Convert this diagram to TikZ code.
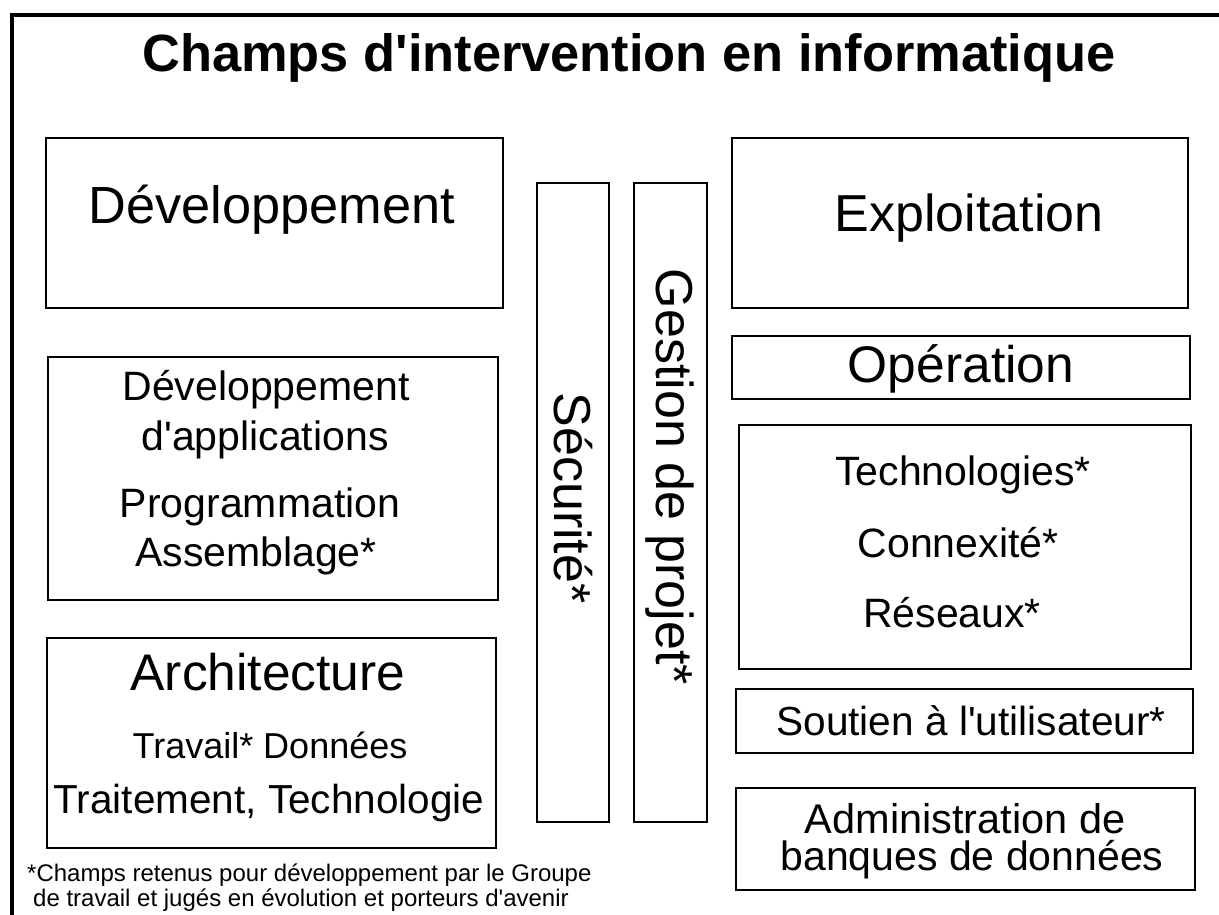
\documentclass[tikz,border=0pt]{standalone}
\usepackage{fontspec}
\setmainfont{Liberation Sans}
\newcommand\setfs[1]{\fontsize{#1}{#1}\selectfont}
\newcommand\ap{\textquotesingle}
\begin{document}
\begin{tikzpicture}[x=1pt,y=-1pt,
  box/.style={draw=black, line width=1.6pt, rectangle, inner sep=0pt},
  txt/.style={anchor=base, inner sep=0pt},
  foot/.style={anchor=base west, inner sep=0pt, font=\setfs{24}}]
\clip (0,0) rectangle (1219,914);
\fill[white] (0,0) rectangle (1219,914);
% outer frame (clipped at right and bottom)
\draw[line width=3.5pt] (12,940) -- (12,15) -- (1240,15);
% title
\node[txt, font=\bfseries\setfs{52.4}] (title) at (629,71) {Champs d\ap intervention en informatique};
% left column boxes
\node[box, minimum width=457pt, minimum height=170pt] (dev) at (274.5,223) {};
\node[box, minimum width=450pt, minimum height=243pt] (devapp) at (273,478.5) {};
\node[box, minimum width=449pt, minimum height=210pt] (arch) at (271.5,743) {};
% vertical bars
\node[box, minimum width=72pt, minimum height=639pt] (secu) at (573,502.5) {};
\node[box, minimum width=73pt, minimum height=639pt] (gest) at (670.5,502.5) {};
% right column boxes
\node[box, minimum width=456pt, minimum height=170pt] (expl) at (960,223) {};
\node[box, minimum width=458pt, minimum height=63pt] (oper) at (961,367.5) {};
\node[box, minimum width=452pt, minimum height=244pt] (tech) at (965,547) {};
\node[box, minimum width=457pt, minimum height=64pt] (sout) at (964.5,721) {};
\node[box, minimum width=459pt, minimum height=102pt] (admin) at (965.5,839) {};
% texts left
\node[txt, font=\setfs{52.3}] (devT) at (272,223) {Développement};
\node[txt, font=\setfs{41}] (devappA) at (266,400) {Développement};
\node[txt, font=\setfs{41}] (devappB) at (265,450) {d\ap applications};
\node[txt, font=\setfs{41}] (devappC) at (260,517) {Programmation};
\node[txt, font=\setfs{41}] (devappD) at (256,566) {Assemblage*};
\node[txt, font=\setfs{51.5}] (archA) at (268,690) {Architecture};
\node[txt, font=\setfs{36}] (archB) at (270,758) {Travail* Données};
\node[txt, font=\setfs{40.5}] (archC) at (269,813) {Traitement, Technologie};
% vertical texts
\node[txt, rotate=-90, font=\setfs{52}] (secuT) at (554,498) {Sécurité*};
\node[txt, rotate=-90, font=\setfs{52}] (gestT) at (656,477) {Gestion de projet*};
% texts right
\node[txt, font=\setfs{52}] (explT) at (969,231) {Exploitation};
\node[txt, font=\setfs{51.5}] (operT) at (961,382) {Opération};
\node[txt, font=\setfs{41}] (techA) at (963,485) {Technologies*};
\node[txt, font=\setfs{41}] (techB) at (958,557) {Connexité*};
\node[txt, font=\setfs{41}] (techC) at (952,627) {Réseaux*};
\node[txt, font=\setfs{40.6}] (soutT) at (971,735) {Soutien à l\ap utilisateur*};
\node[txt, font=\setfs{41.5}] (adminA) at (965,833) {Administration de};
\node[txt, font=\setfs{41}] (adminB) at (972,870) {banques de données};
% footnote
\node[foot] (footA) at (27,881) {*Champs retenus pour développement par le Groupe};
\node[foot] (footB) at (33,906) {de travail et jugés en évolution et porteurs d\ap avenir};
\end{tikzpicture}
\end{document}
